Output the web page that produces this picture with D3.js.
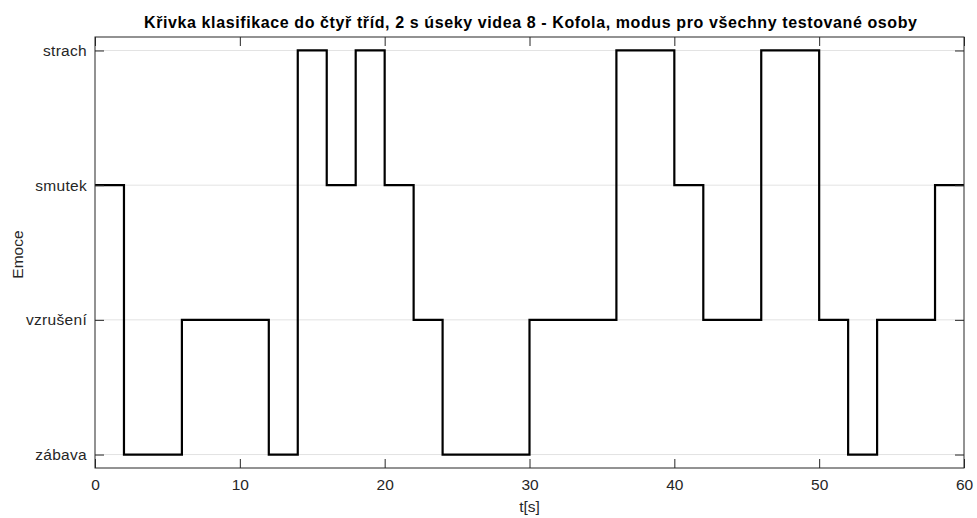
<!DOCTYPE html>
<html><head><meta charset="utf-8">
<script src="https://cdn.jsdelivr.net/npm/d3@7"></script>
<style>body{margin:0;background:#fff;} text{font-family:"Liberation Sans",Arial,sans-serif;}</style>
</head><body><svg id="c" width="977" height="518"></svg>
<script>
const categories = ["zábava","vzrušení","smutek","strach"];
const segStarts = [0,2,4,6,8,10,12,14,16,18,20,22,24,26,28,30,32,34,36,38,40,42,44,46,48,50,52,54,56,58];
const emotions = ["smutek","zábava","zábava","vzrušení","vzrušení","vzrušení","zábava","strach","smutek","strach",
  "smutek","vzrušení","zábava","zábava","zábava","vzrušení","vzrušení","vzrušení","strach","strach",
  "smutek","vzrušení","vzrušení","strach","strach","vzrušení","zábava","vzrušení","vzrušení","smutek"];
const xTicks = [0,10,20,30,40,50,60];
const segLen = 2;

const svg = d3.select("#c");
const L=95,R=964,T=37,B=468;
const x = d3.scaleLinear().domain([0,60]).range([L,R]);
const y = d3.scaleLinear().domain([0.9,4.1]).range([B,T]);
const yv = c => categories.indexOf(c)+1;

// grid
svg.append("g").selectAll("line").data(categories).join("line")
  .attr("x1",L).attr("x2",R).attr("y1",d=>y(yv(d))).attr("y2",d=>y(yv(d)))
  .attr("stroke","#e3e3e3").attr("stroke-width",1);

// data line
const pts = segStarts.map((s,i)=>[s,yv(emotions[i])]);
pts.push([segStarts[segStarts.length-1]+segLen, yv(emotions[emotions.length-1])]);
svg.append("path").datum(pts)
  .attr("d", d3.line().x(d=>x(d[0])).y(d=>y(d[1])).curve(d3.curveStepAfter))
  .attr("fill","none").attr("stroke","#000").attr("stroke-width",2.2);

const axc = "#262626";
// box
svg.append("rect").attr("x",L).attr("y",T).attr("width",R-L).attr("height",B-T)
  .attr("fill","none").attr("stroke",axc).attr("stroke-width",1);

const tl = 9;
const xa = svg.append("g").attr("transform",`translate(0,${B})`)
  .call(d3.axisBottom(x).tickValues(xTicks).tickSizeInner(-tl).tickSizeOuter(0).tickPadding(11));
const xt = svg.append("g").attr("transform",`translate(0,${T})`)
  .call(d3.axisTop(x).tickValues(xTicks).tickSizeInner(-tl).tickSizeOuter(0).tickFormat(""));
const ya = svg.append("g").attr("transform",`translate(${L},0)`)
  .call(d3.axisLeft(y).tickValues([1,2,3,4]).tickFormat(d=>categories[d-1]).tickSizeInner(-tl).tickSizeOuter(0).tickPadding(8));
const yr = svg.append("g").attr("transform",`translate(${R},0)`)
  .call(d3.axisRight(y).tickValues([1,2,3,4]).tickFormat("").tickSizeInner(-tl).tickSizeOuter(0));
[xa,xt,ya,yr].forEach(g=>{
  g.select(".domain").remove();
  g.selectAll("line").attr("stroke",axc);
  g.selectAll("text").attr("fill",axc).style("font-size","15.5px").style("font-family","'Liberation Sans',Arial,sans-serif");
});
ya.selectAll("text").style("letter-spacing","0.3px");

svg.append("text").attr("x",(144+917)/2).attr("y",28).attr("text-anchor","middle")
  .attr("textLength",773).attr("lengthAdjust","spacing")
  .style("font-size","16px").style("font-weight","bold").attr("fill","#000")
  .text("Křivka klasifikace do čtyř tříd, 2 s úseky videa 8 - Kofola, modus pro všechny testované osoby");
svg.append("text").attr("x",(L+R)/2).attr("y",512).attr("text-anchor","middle")
  .style("font-size","15.5px").attr("fill",axc).text("t[s]");
svg.append("text").attr("transform",`translate(23,${(T+B)/2+2}) rotate(-90)`).attr("text-anchor","middle")
  .style("font-size","15.5px").attr("fill",axc).text("Emoce");
</script></body></html>
